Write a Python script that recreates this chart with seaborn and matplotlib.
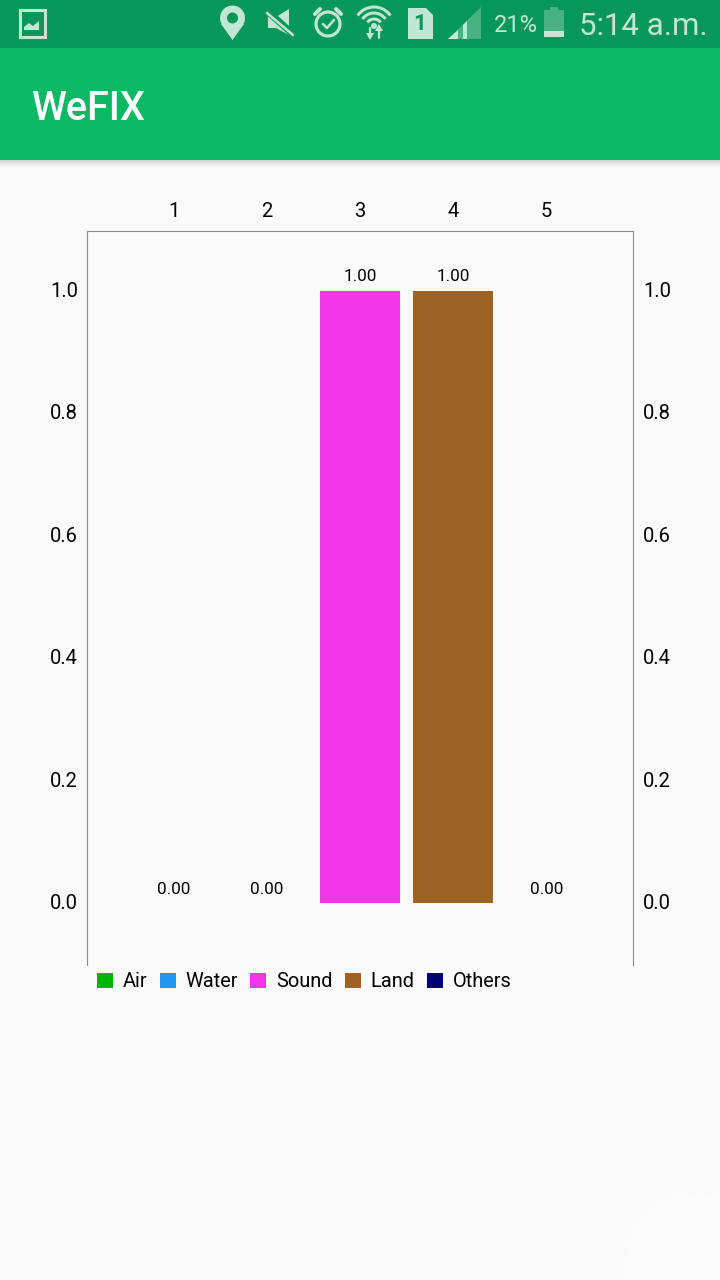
import matplotlib
matplotlib.use("Agg")
import matplotlib.pyplot as plt
from matplotlib.patches import Rectangle, Circle, Polygon, Arc
from matplotlib.transforms import ScaledTranslation
import pandas as pd
import seaborn as sns

days = ["1", "2", "3", "4", "5"]
series = ["Air", "Water", "Sound", "Land", "Others"]
values = [0.0, 0.0, 1.0, 1.0, 0.0]
colors = ["#00B300", "#2196F3", "#F235E6", "#9C6226", "#000075"]
y_ticks = [0.0, 0.2, 0.4, 0.6, 0.8, 1.0]
app_title = "WeFIX"
status_time = "5:14 a.m."
battery_text = "21%"

BG = "#FAFAFA"
sns.set_theme(style="white")
plt.rcParams["font.family"] = ["Roboto", "DejaVu Sans"]
W, H = 720, 1280
fig = plt.figure(figsize=(W / 100, H / 100), dpi=100, facecolor=BG)
px = 0.72  # points per pixel

ax = fig.add_axes([87 / W, 1 - 964.7 / H, 546 / W, 734 / H], facecolor=BG)
df = pd.DataFrame({"day": days, "series": series, "value": values})
sns.barplot(data=df, x="day", y="value", hue="series", order=days, hue_order=series,
            palette=dict(zip(series, colors)), dodge=False, width=0.855, saturation=1,
            errorbar=None, ax=ax, linewidth=0)
ax.set_xlim(-0.928, 4.928)
ax.set_ylim(-0.1008, 1.0985)
ax.set_xlabel("")
ax.set_ylabel("")
ax.set_yticks(y_ticks)
ax.set_yticklabels([f"{v:.1f}" for v in y_ticks])
ax.xaxis.tick_top()
ax.tick_params(axis="x", length=0, pad=10 * px, labelsize=14.5, labelcolor="black")
ax.tick_params(axis="y", length=0, pad=10 * px, labelsize=14.5, labelcolor="black",
               left=False, right=False, labelleft=True, labelright=True)
for tick in ax.yaxis.get_major_ticks():
    tick.label1.set_transform(tick.label1.get_transform()
                              + ScaledTranslation(0.01, 0.015, fig.dpi_scale_trans))
    tick.label2.set_transform(tick.label2.get_transform()
                              + ScaledTranslation(0, 0.015, fig.dpi_scale_trans))
for name, sp in ax.spines.items():
    sp.set_color("#8A8A8A")
    sp.set_linewidth(1.1 * px)
    sp.set_visible(name != "bottom")

for c in ax.containers:
    ax.bar_label(c, fmt="%.2f", padding=6.5 * px, fontsize=12.3, color="black")

handles, labels = ax.get_legend_handles_labels()
fs = 20 * px
ax.legend(handles, labels, ncols=5, loc="upper left", bbox_to_anchor=(10 / 546, -7.5 / 734),
          frameon=False, fontsize=fs, borderpad=0, borderaxespad=0,
          handlelength=16 / 20, handleheight=16 / 20, handletextpad=10 / 20,
          columnspacing=12 / 20, labelcolor="black")

# Phone chrome overlay, in pixel coordinates
ov = fig.add_axes([0, 0, 1, 1], zorder=5)
ov.set_xlim(0, W)
ov.set_ylim(H, 0)
ov.axis("off")
ov.patch.set_alpha(0)
ov.add_patch(Rectangle((0, 0), W, 48, fc="#07975A", ec="none"))
ov.add_patch(Rectangle((0, 48), W, 112, fc="#0DB865", ec="none"))
for i in range(9):
    ov.add_patch(Rectangle((0, 160 + i), W, 1, fc="black", alpha=0.16 * (1 - i / 9) ** 2, ec="none"))
ov.text(31, 108.5, app_title, color="white", fontsize=28.5, fontweight="medium",
        va="center", ha="left")

ic = "#C2E6D4"
# picture icon
ov.add_patch(Rectangle((19.5, 9.5), 25, 27, fc="none", ec=ic, lw=3 * px))
ov.add_patch(Polygon([(24, 30), (24, 27), (29, 23), (33, 26), (39, 21), (39, 30)], fc=ic, ec="none"))
# pin
ov.add_patch(Circle((232.5, 18), 12.5, fc=ic, ec="none"))
ov.add_patch(Polygon([(221, 24), (244, 24), (232.5, 40)], fc=ic, ec="none"))
ov.add_patch(Circle((232.5, 18), 5.5, fc="#07975A", ec="none"))
# muted speaker
ov.add_patch(Polygon([(268, 17), (276, 17), (289, 9), (289, 35), (276, 28), (268, 28)], fc=ic, ec="none"))
ov.plot([266, 294], [10, 35], color="#07975A", lw=7 * px, solid_capstyle="butt")
ov.plot([267, 293], [13, 35], color=ic, lw=2.5 * px)
# alarm clock
ov.add_patch(Circle((328, 24), 12, fc="none", ec=ic, lw=3.2 * px))
ov.plot([323, 327, 334], [24, 28, 20], color=ic, lw=2.5 * px)
ov.plot([315, 320], [14, 9], color=ic, lw=4 * px)
ov.plot([336, 341], [9, 14], color=ic, lw=4 * px)
# wifi with arrows
for r in (8, 14, 20):
    ov.add_patch(Arc((374, 27), 2 * r, 2 * r, theta1=215, theta2=325, color=ic, lw=3 * px))
ov.add_patch(Circle((374, 26), 3, fc=ic, ec="none"))
ov.plot([370, 370], [28, 38], color=ic, lw=2.2 * px)
ov.plot([379, 379], [26, 38], color=ic, lw=2.2 * px)
ov.add_patch(Polygon([(366, 33), (374, 33), (370, 40)], fc=ic, ec="none"))
ov.add_patch(Polygon([(375, 31), (383, 31), (379, 24)], fc=ic, ec="none"))
# SIM
ov.add_patch(Polygon([(408, 8), (426, 8), (433, 15), (433, 39), (408, 39)], fc=ic, ec="none"))
ov.text(420, 24, "1", color="#07975A", fontsize=16, fontweight="bold", ha="center", va="center")
# signal
ov.add_patch(Polygon([(448, 39), (481, 7), (481, 39)], fc=ic, ec="none", alpha=0.35))
ov.add_patch(Polygon([(448, 39), (458, 30), (458, 39)], fc=ic, ec="none"))
ov.add_patch(Polygon([(463, 39), (463, 25), (467, 21), (467, 39)], fc=ic, ec="none"))
# battery text and icon
ov.text(494, 26, battery_text, color=ic, fontsize=17, ha="left", va="center")
ov.add_patch(Rectangle((544, 10), 20, 26, fc=ic, ec="none", alpha=0.35))
ov.add_patch(Rectangle((550, 7), 8, 3, fc=ic, ec="none", alpha=0.35))
ov.add_patch(Rectangle((544, 31), 20, 6, fc=ic, ec="none"))
ov.text(579, 26.5, status_time, color=ic, fontsize=22.5, ha="left", va="center")
# faint ripple bottom-right
ov.add_patch(Circle((700, 1270), 75, fc="white", ec="none", alpha=0.35))

fig.savefig("out.png", dpi=100, facecolor=BG)
